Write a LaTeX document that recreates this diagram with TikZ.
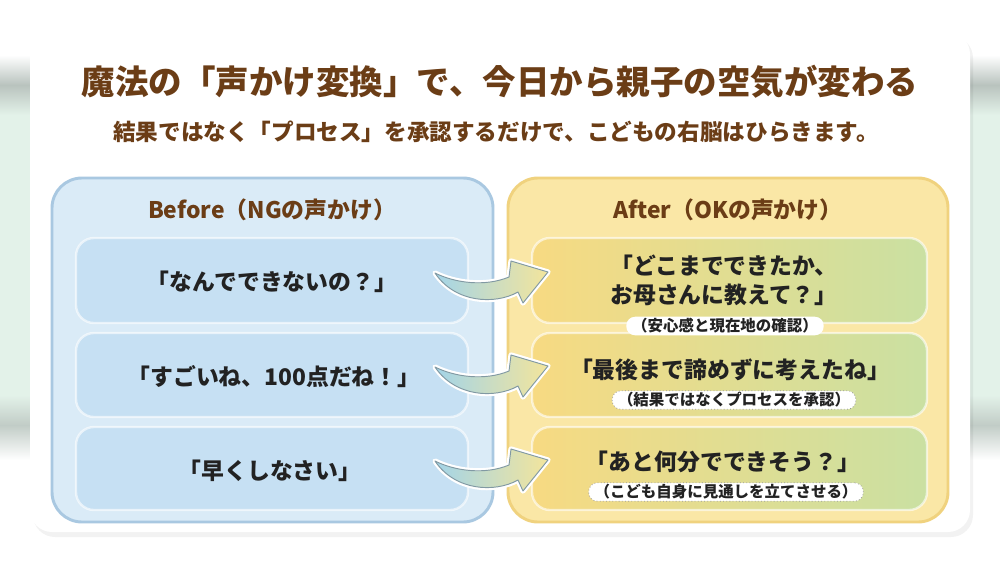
\documentclass[tikz,border=0pt]{standalone}
\usepackage{fontspec}
\setmainfont{Noto Sans CJK JP}
\definecolor{brownt}{HTML}{6B3D16}
\definecolor{ink}{HTML}{222222}
\definecolor{mint}{HTML}{E3F2E9}
\definecolor{band}{HTML}{B9C3BE}
\definecolor{bpanel}{HTML}{DAEBF7}
\definecolor{bborder}{HTML}{A9C8E1}
\definecolor{binner}{HTML}{C6E0F3}
\definecolor{apanel}{HTML}{FAE7A6}
\definecolor{aborder}{HTML}{F0D27E}
\definecolor{ainL}{HTML}{F7DA82}
\definecolor{ainR}{HTML}{CAE0A2}
\definecolor{arrL}{HTML}{A3D4E8}
\definecolor{arrR}{HTML}{F3E59C}
\definecolor{arrline}{HTML}{8199A3}
\definecolor{pillline}{HTML}{9A9A9A}
\tikzset{
  ttl/.style={text=brownt, font=\fontsize{28.6pt}{32pt}\selectfont\bfseries, inner sep=0pt},
  subttl/.style={text=brownt, font=\fontsize{19.3pt}{22pt}\selectfont\bfseries, inner sep=0pt},
  ptitle/.style={text=brownt, font=\fontsize{19.5pt}{22pt}\selectfont\bfseries, inner sep=0pt},
  item/.style={text=ink, font=\fontsize{19.5pt}{25pt}\selectfont\bfseries, inner sep=0pt, align=center},
  pill/.style={fill=white, rounded corners=2.6mm, text=ink, font=\fontsize{13.2pt}{15pt}\selectfont\bfseries, inner xsep=5pt, inner ysep=1.5pt},
  dpill/.style={pill, draw=pillline, dotted, line width=0.7pt},
  outerB/.style={fill=bpanel, draw=bborder, line width=2.5pt, rounded corners=9mm},
  outerA/.style={fill=apanel, draw=aborder, line width=2.5pt, rounded corners=9mm},
  innerB/.style={fill=binner, draw=white, draw opacity=0.6, line width=2pt, rounded corners=5.4mm},
  innerA/.style={left color=ainL, right color=ainR, draw=white, draw opacity=0.6, line width=2pt, rounded corners=5.4mm},
  swoop/.pic={
    \path[draw=arrline, line width=0.8pt, line join=round, left color=arrL, right color=arrR,
          preaction={draw=white, line width=4.5pt, line join=round}]
      (0,0) .. controls (20,10) and (50,14) .. (74,4) -- (76,-12) -- (113,-1)
      -- (88,30) -- (83,19) .. controls (60,32) and (20,30) .. (0,0) -- cycle;
  }
}
\begin{document}
\begin{tikzpicture}[x=0.3mm,y=-0.3mm]
\useasboundingbox (0,0) rectangle (1000,563);
\fill[white] (0,0) rectangle (1000,563);
% blurred backdrop at the sides
\foreach \xa/\xb in {0/40, 960/1000}{
  \shade[top color=white, bottom color=band] (\xa,55) rectangle (\xb,85);
  \shade[top color=band, bottom color=mint] (\xa,85) rectangle (\xb,115);
  \fill[mint] (\xa,115) rectangle (\xb,395);
  \shade[top color=mint, bottom color=band!80!mint] (\xa,395) rectangle (\xb,425);
  \shade[top color=band!80!mint, bottom color=white] (\xa,425) rectangle (\xb,460);
}
% card
\fill[black, opacity=0.05, rounded corners=6.6mm] (33,36) rectangle (973,537);
\fill[white, rounded corners=6.6mm] (30,32) rectangle (970,532);

% headings
\node[ttl] (title) at (500,82) {魔法の「声かけ変換」で、今日から親子の空気が変わる};
\node[subttl] (subtitle) at (496,132) {結果ではなく「プロセス」を承認するだけで、こどもの右脳はひらきます。};

% panels
\path[outerB] (52,178) rectangle (493,522);
\path[outerA] (508,178) rectangle (948,522);
\foreach \ya/\yb in {238/323, 333/417, 427/510}{
  \path[innerB] (76,\ya) rectangle (468,\yb);
  \path[innerA] (532,\ya) rectangle (927,\yb);
}
\node[ptitle] (btitle) at (272,210) {Before（NGの声かけ）};
\node[ptitle] (atitle) at (728,210) {After（OKの声かけ）};

% before items
\node[item] (b1) at (272,282) {「なんでできないの？」};
\node[item] (b2) at (274,377) {「すごいね、100点だね！」};
\node[item] (b3) at (270,471) {「早くしなさい」};

% after items
\node[item] (a1) at (724,280) {「どこまでできたか、\\お母さんに教えて？」};
\node[pill] (p1) at (725,326) {（安心感と現在地の確認）};
\node[item] (a2) at (730,370) {「最後まで諦めずに考えたね」};
\node[dpill] (p2) at (734,400) {（結果ではなくプロセスを承認）};
\node[item] (a3) at (723,462) {「あと何分でできそう？」};
\node[dpill] (p3) at (726,492) {（こども自身に見通しを立てさせる）};

% arrows
\coordinate (s1) at (435,273);
\coordinate (s2) at (435,367);
\coordinate (s3) at (435,461);
\pic at (s1) {swoop};
\pic at (s2) {swoop};
\pic at (s3) {swoop};
\end{tikzpicture}
\end{document}
